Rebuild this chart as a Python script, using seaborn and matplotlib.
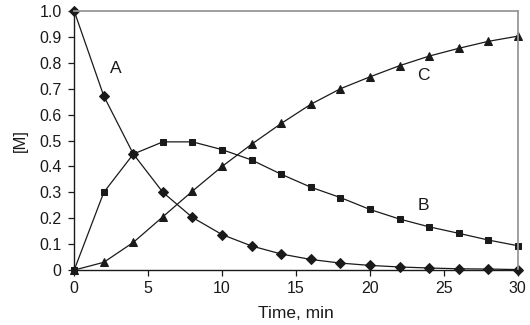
import matplotlib
matplotlib.use("Agg")
import matplotlib.pyplot as plt
import seaborn as sns
import pandas as pd

time_a = [0, 2, 4, 6, 8, 10, 12, 14, 16, 18, 20, 22, 24, 26, 28, 30]
conc_a = [1.0, 0.672, 0.448, 0.30, 0.203, 0.137, 0.093, 0.062, 0.041, 0.027, 0.018, 0.012, 0.008, 0.005, 0.004, 0.002]
time_b = [0, 2, 4, 6, 8, 10, 12, 14, 16, 18, 20, 22, 24, 26, 28, 30]
conc_b = [0.0, 0.30, 0.448, 0.495, 0.495, 0.465, 0.425, 0.37, 0.32, 0.28, 0.234, 0.197, 0.167, 0.142, 0.116, 0.094]
time_c = [0, 2, 4, 6, 8, 10, 12, 14, 16, 18, 20, 22, 24, 26, 28, 30]
conc_c = [0.0, 0.03, 0.107, 0.206, 0.305, 0.40, 0.486, 0.566, 0.64, 0.70, 0.746, 0.789, 0.826, 0.856, 0.883, 0.903]

series_labels = ["A", "B", "C"]
label_pos_t = [2.8, 23.6, 23.6]
label_pos_v = [0.78, 0.25, 0.75]

x_ticks = [0, 5, 10, 15, 20, 25, 30]
y_ticks = [0, 0.1, 0.2, 0.3, 0.4, 0.5, 0.6, 0.7, 0.8, 0.9, 1.0]
y_tick_labels = ["0", "0.1", "0.2", "0.3", "0.4", "0.5", "0.6", "0.7", "0.8", "0.9", "1.0"]

sns.set_style("white")
plt.rcParams['font.family'] = ['Liberation Sans', 'DejaVu Sans']

fig = plt.figure(figsize=(5.3, 3.25), dpi=100)
ax = fig.add_axes([0.14, 0.169, 0.837, 0.797])

ink = "#1a1a1a"
df_a = pd.DataFrame({"t": time_a, "v": conc_a})
df_b = pd.DataFrame({"t": time_b, "v": conc_b})
df_c = pd.DataFrame({"t": time_c, "v": conc_c})

sns.lineplot(data=df_a, x="t", y="v", ax=ax, color=ink, lw=0.9, marker="D",
             markersize=5.3, markeredgecolor=ink, clip_on=False)
sns.lineplot(data=df_b, x="t", y="v", ax=ax, color=ink, lw=0.9, marker="s",
             markersize=4.3, markeredgecolor=ink, clip_on=False)
sns.lineplot(data=df_c, x="t", y="v", ax=ax, color=ink, lw=0.9, marker="^",
             markersize=6.2, markeredgecolor=ink, clip_on=False)

for lab, tx, vy in zip(series_labels, label_pos_t, label_pos_v):
    ax.text(tx, vy, lab, fontsize=12.5, color=ink, ha="center", va="center")

ax.set_xlim(0, 30)
ax.set_ylim(0, 1.0)
ax.set_xticks(x_ticks)
ax.set_xticklabels([str(t) for t in x_ticks])
ax.set_yticks(y_ticks)
ax.set_yticklabels(y_tick_labels)
ax.tick_params(axis="both", labelsize=11.5, colors=ink, length=4, width=0.9,
               direction="out", left=True, bottom=True)
ax.tick_params(axis="y", pad=5)
ax.tick_params(axis="x", pad=4)
ax.set_xlabel("Time, min", fontsize=12.5, color=ink, labelpad=7)
ax.set_ylabel("[M]", fontsize=12, color=ink, labelpad=8)

for s in ["left", "bottom"]:
    ax.spines[s].set_color(ink)
    ax.spines[s].set_linewidth(1.0)
for s in ["top", "right"]:
    ax.spines[s].set_color("#999999")
    ax.spines[s].set_linewidth(1.3)

fig.savefig("out.png", dpi=100)
